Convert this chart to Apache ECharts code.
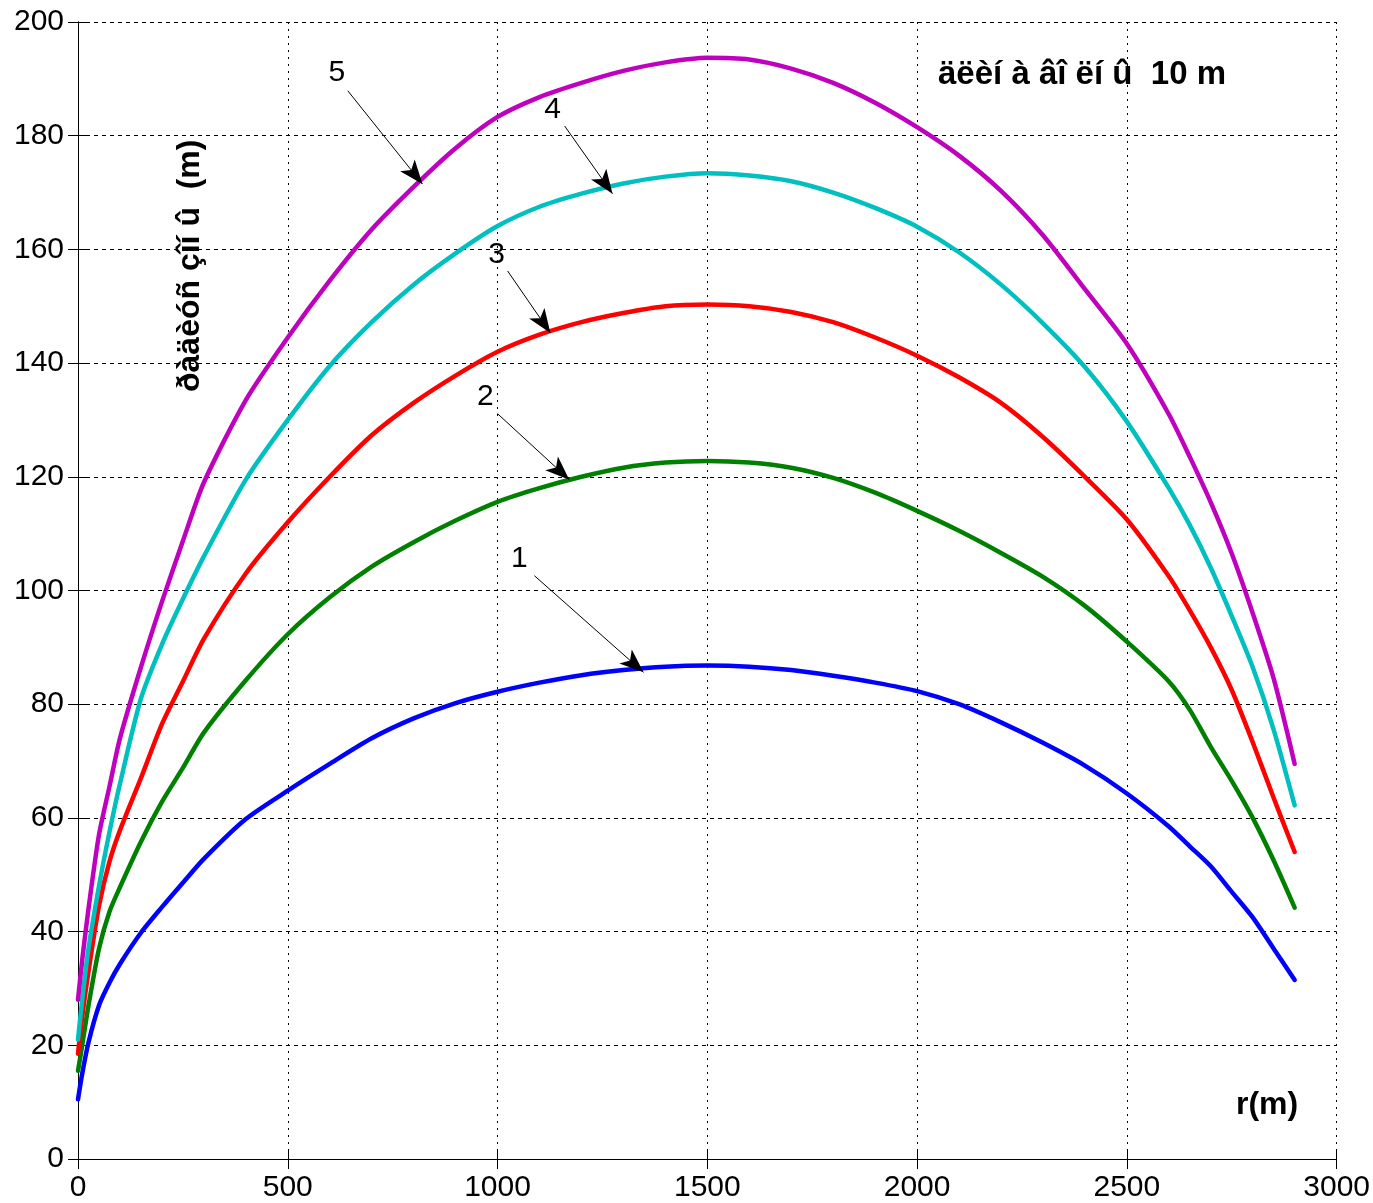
<!DOCTYPE html>
<html>
<head>
<meta charset="utf-8">
<title>r(m)</title>
<script src="https://cdn.jsdelivr.net/npm/echarts@6/dist/echarts.min.js"></script>
<style>
  html, body { margin: 0; padding: 0; background: #ffffff; }
  #chart { width: 1373px; height: 1203px; }
</style>
</head>
<body>
<div id="chart"></div>
<script>
// r (m) along the x axis
const rValues = [0, 10, 25, 50, 75, 100, 150, 200, 250, 300,
  400, 500, 600, 700, 800, 900, 1000, 1100, 1200, 1300, 1400, 1500,
  1600, 1700, 1800, 1900, 2000, 2100, 2200, 2300, 2400, 2500, 2600,
  2650, 2700, 2750, 2800, 2850, 2900]

// curves 1..5 (m)
const curve1 = [10.5, 15, 20.5, 27, 31, 34.3, 39.8, 44.3, 48.6, 52.8,
  59.8, 64.8, 69.5, 74, 77.5, 80.2, 82.2, 83.8, 85.1, 86, 86.6, 86.8,
  86.6, 86, 85, 83.8, 82.3, 80, 76.8, 73.2, 69.2, 64.3, 58.5,
  55, 51.5, 47, 42.5, 37, 31.5]
const curve2 = [15.5, 20, 27, 37, 43.5, 47.8, 55.8, 62.8, 68.8, 75,
  84.2, 92.3, 98.8, 104.2, 108.5, 112.3, 115.6, 118, 120, 121.6, 122.5, 122.8,
  122.5, 121.6, 119.8, 117.2, 114, 110.5, 106.6, 102.4, 97.3, 91, 84,
  79, 72.5, 66.5, 60, 52.5, 44.2]
const curve3 = [18.5, 25, 33, 44.5, 52.3, 57.8, 67, 76.5, 84, 91.5,
  103, 112, 120, 127.3, 133, 137.8, 142, 145, 147.2, 148.8, 150, 150.3,
  150, 149, 147.2, 144.5, 141.3, 137.5, 133, 127, 120, 112.5, 102.5,
  96.5, 90, 82.5, 73.3, 63.5, 54]
const curve4 = [21, 28, 37, 48, 57.5, 66, 81, 90.5, 98.5, 106,
  119.5, 130, 139.5, 147.2, 153.8, 159.3, 164.1, 167.5, 169.8, 171.6, 172.8, 173.4,
  173, 172, 170, 167.3, 164, 159.5, 153.8, 147, 139.3, 129.7, 118,
  111.5, 104, 95.5, 86.5, 75.5, 62.2]
const curve5 = [28, 35, 44, 57, 65.5, 74, 86.5, 98, 108.7, 119,
  133.5, 144.5, 154.5, 163.5, 171, 177.8, 183.3, 186.8, 189.3, 191.4, 192.9, 193.7,
  193.4, 191.8, 189.3, 185.8, 181.5, 176.5, 170.3, 162.5, 153, 143.4, 131,
  123.5, 115.5, 106.5, 96, 84.5, 69.5]

const curveColors = ['#0000ff', '#008000', '#ff0000', '#00bfbf', '#bf00bf']

// numbered callouts: label point, arrow start, arrow tip (data coords)
const calloutText = ['1', '2', '3', '4', '5']
const calloutLabelAt = [[1052, 105.5], [971, 134], [998, 159], [1131, 184.5], [617, 191]]
const calloutFrom = [[1088, 102.6], [1000, 131.1], [1024, 156.2], [1160, 181.7], [643, 187.9]]
const calloutTo = [[1348, 85.6], [1171, 119.5], [1126, 145.3], [1274, 169.8], [821, 171.5]]

const tickFont = '"Liberation Sans", Arial, sans-serif'

const myChart = echarts.init(document.getElementById('chart'))

const curves = [curve1, curve2, curve3, curve4, curve5]
const series = curves.map((ys, i) => ({
  name: calloutText[i],
  type: 'line',
  data: rValues.map((r, k) => [r, ys[k]]),
  showSymbol: false,
  smooth: 0.25,
  lineStyle: { color: curveColors[i], width: 4.5, join: 'round', cap: 'round' },
  itemStyle: { color: curveColors[i] },
  z: 3,
  markLine: {
    silent: true,
    symbol: ['none', 'arrow'],
    symbolSize: [14, 24],
    lineStyle: { color: '#000000', width: 1, type: 'solid' },
    label: { show: false },
    data: [[{ coord: calloutFrom[i] }, { coord: calloutTo[i] }]]
  },
  markPoint: {
    silent: true,
    symbol: 'circle',
    symbolSize: 0,
    label: {
      show: true,
      position: 'inside',
      formatter: calloutText[i],
      color: '#000000',
      fontSize: 30,
      fontFamily: tickFont
    },
    data: [{ coord: calloutLabelAt[i] }]
  }
}))

const axisCommon = {
  type: 'value',
  axisLine: { show: true, lineStyle: { color: '#000000', width: 1 } },
  axisTick: { show: true, inside: true, length: 10, lineStyle: { color: '#000000' } }
}

myChart.setOption({
  animation: false,
  backgroundColor: '#ffffff',
  grid: { left: 78, right: 36, top: 22, bottom: 44, containLabel: false },
  title: {
    text: 'äëèí à âî ëí û  10 m',
    left: 933,
    top: 53,
    textStyle: { fontSize: 33, fontWeight: 'bold', fontFamily: tickFont, color: '#000000' }
  },
  graphic: [
    {
      type: 'text',
      left: 1236,
      top: 1089,
      style: { text: 'r(m)', font: 'bold 32px "Liberation Sans", Arial, sans-serif', fill: '#000000' }
    },
    {
      type: 'text',
      x: 174,
      y: 392,
      rotation: Math.PI / 2,
      style: {
        text: 'ðàäèóñ çîí û  (m)',
        font: 'bold 32px "Liberation Sans", Arial, sans-serif',
        fill: '#000000',
        textAlign: 'left',
        textVerticalAlign: 'top'
      }
    }
  ],
  xAxis: [
    Object.assign({}, axisCommon, {
      min: 0,
      max: 3000,
      interval: 500,
      position: 'bottom',
      axisLabel: {
        color: '#000000', fontSize: 30, fontFamily: tickFont, margin: 14, showMaxLabel: true,
        formatter: function(v) { return String(v) }
      },
      splitLine: { show: true, lineStyle: { color: '#000000', width: 1, type: [2, 5] } }
    }),
    Object.assign({}, axisCommon, {
      min: 0,
      max: 3000,
      interval: 500,
      position: 'top',
      axisLabel: { show: false },
      splitLine: { show: false }
    })
  ],
  yAxis: [
    Object.assign({}, axisCommon, {
      min: 0,
      max: 200,
      interval: 20,
      position: 'left',
      axisLabel: {
        color: '#000000', fontSize: 30, fontFamily: tickFont, margin: 14,
        formatter: function(v) { return String(v) }
      },
      splitLine: { show: true, lineStyle: { color: '#000000', width: 1, type: [4, 4] } }
    }),
    Object.assign({}, axisCommon, {
      min: 0,
      max: 200,
      interval: 20,
      position: 'right',
      axisLabel: { show: false },
      splitLine: { show: false }
    })
  ],
  series: series
})
window.addEventListener('resize', function() {
  myChart.resize()
})
</script>
</body>
</html>
